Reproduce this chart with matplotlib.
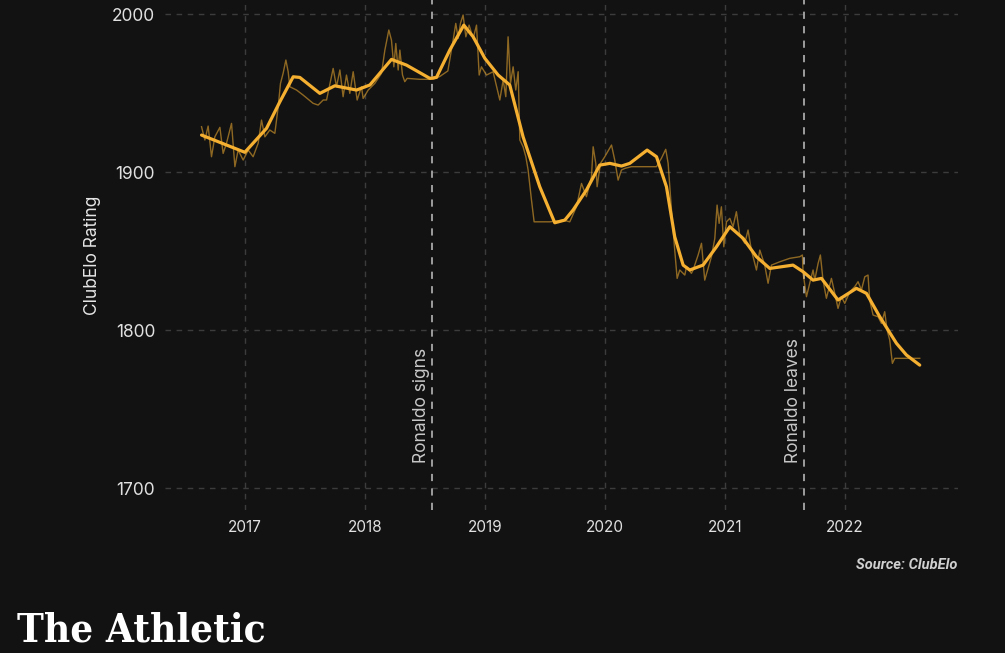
import matplotlib
matplotlib.use("Agg")
import matplotlib.pyplot as plt

# ClubElo rating, raw (per match) - decimal years
raw_year = [2016.639, 2016.667, 2016.694, 2016.722, 2016.750, 2016.792, 2016.819, 2016.847,
            2016.889, 2016.917, 2016.944, 2016.986, 2017.028, 2017.069, 2017.111, 2017.139,
            2017.167, 2017.208, 2017.250, 2017.278, 2017.297, 2017.319, 2017.342, 2017.361,
            2017.375, 2017.431, 2017.486, 2017.569, 2017.611, 2017.653, 2017.681, 2017.736,
            2017.764, 2017.792, 2017.819, 2017.847, 2017.875, 2017.903, 2017.936, 2017.972,
            2017.986, 2018.028, 2018.083, 2018.139, 2018.167, 2018.200, 2018.222, 2018.242,
            2018.258, 2018.278, 2018.292, 2018.314, 2018.333, 2018.353, 2018.458, 2018.569,
            2018.625, 2018.692, 2018.736, 2018.758, 2018.778, 2018.797, 2018.819, 2018.842,
            2018.869, 2018.903, 2018.931, 2018.953, 2018.972, 2019.014, 2019.069, 2019.125,
            2019.153, 2019.175, 2019.194, 2019.214, 2019.236, 2019.258, 2019.278, 2019.292,
            2019.319, 2019.342, 2019.361, 2019.389, 2019.411, 2019.542, 2019.653, 2019.708,
            2019.764, 2019.806, 2019.847, 2019.889, 2019.903, 2019.925, 2019.936, 2019.964,
            2020.000, 2020.056, 2020.083, 2020.111, 2020.139, 2020.167, 2020.222, 2020.431,
            2020.472, 2020.508, 2020.528, 2020.556, 2020.583, 2020.603, 2020.625, 2020.667,
            2020.681, 2020.722, 2020.736, 2020.778, 2020.806, 2020.833, 2020.861, 2020.889,
            2020.917, 2020.936, 2020.953, 2020.972, 2020.992, 2021.014, 2021.042, 2021.069,
            2021.097, 2021.125, 2021.167, 2021.194, 2021.222, 2021.264, 2021.292, 2021.333,
            2021.361, 2021.389, 2021.458, 2021.542, 2021.625, 2021.647, 2021.653, 2021.681,
            2021.708, 2021.736, 2021.750, 2021.778, 2021.797, 2021.819, 2021.847, 2021.889,
            2021.917, 2021.944, 2021.972, 2022.000, 2022.042, 2022.083, 2022.111, 2022.139,
            2022.167, 2022.194, 2022.208, 2022.236, 2022.278, 2022.306, 2022.333, 2022.353,
            2022.375, 2022.397, 2022.417, 2022.625]
raw_elo = [1928.7, 1920.3, 1929.1, 1909.7, 1922.3, 1928.3, 1911.8, 1918.2,
           1930.8, 1903.4, 1913.9, 1907.6, 1913.9, 1909.7, 1918.2, 1932.9,
           1922.3, 1926.6, 1924.5, 1941.3, 1956.1, 1962.5, 1970.9, 1963.5,
           1954.0, 1951.9, 1948.7, 1943.5, 1942.4, 1945.6, 1945.6, 1965.6,
           1954.0, 1964.6, 1947.7, 1961.4, 1949.8, 1963.5, 1945.6, 1954.0,
           1946.6, 1951.9, 1956.1, 1962.5, 1977.2, 1989.9, 1983.5, 1966.6,
           1981.4, 1964.6, 1977.2, 1961.4, 1957.2, 1959.3, 1958.7, 1958.7,
           1960.5, 1964.0, 1983.5, 1994.1, 1984.6, 1994.1, 1999.4, 1985.6,
           1993.0, 1984.6, 1993.0, 1961.4, 1966.6, 1961.4, 1963.5, 1945.6,
           1958.2, 1947.7, 1985.6, 1956.1, 1966.6, 1951.9, 1963.5, 1920.3,
           1916.0, 1909.7, 1901.3, 1882.3, 1868.5, 1868.5, 1869.6, 1868.5,
           1878.0, 1892.8, 1884.4, 1897.0, 1916.0, 1905.5, 1890.7, 1905.5,
           1909.7, 1917.1, 1907.6, 1894.9, 1901.3, 1902.3, 1903.4, 1903.4,
           1908.7, 1914.4, 1905.5, 1876.0, 1850.6, 1832.7, 1838.0, 1834.8,
           1840.1, 1835.9, 1838.0, 1847.5, 1854.9, 1831.6, 1839.0, 1846.4,
           1858.0, 1879.1, 1867.5, 1878.0, 1852.7, 1868.5, 1870.7, 1865.4,
           1874.9, 1860.1, 1854.9, 1863.3, 1850.6, 1838.0, 1850.6, 1841.1,
           1829.6, 1841.1, 1843.2, 1845.4, 1846.4, 1847.5, 1835.9, 1821.1,
           1829.6, 1838.0, 1831.6, 1842.2, 1847.5, 1831.6, 1820.1, 1832.7,
           1823.2, 1813.7, 1821.1, 1816.9, 1824.2, 1827.4, 1830.6, 1825.3,
           1833.7, 1834.8, 1819.0, 1809.5, 1808.4, 1804.2, 1811.6, 1800.0,
           1793.7, 1778.9, 1782.1, 1782.1]

# smoothed trend
smooth_year = [2016.639, 2017.000, 2017.181, 2017.292, 2017.403, 2017.458, 2017.625, 2017.750,
               2017.931, 2018.042, 2018.222, 2018.347, 2018.542, 2018.597, 2018.708, 2018.825,
               2018.903, 2019.000, 2019.111, 2019.208, 2019.319, 2019.458, 2019.583, 2019.667,
               2019.736, 2019.847, 2019.958, 2020.042, 2020.139, 2020.208, 2020.353, 2020.431,
               2020.514, 2020.583, 2020.653, 2020.708, 2020.819, 2020.931, 2021.042, 2021.153,
               2021.264, 2021.375, 2021.569, 2021.653, 2021.736, 2021.806, 2021.944, 2022.097,
               2022.181, 2022.292, 2022.431, 2022.514, 2022.625]
smooth_elo = [1923.4, 1912.5, 1927.7, 1944.5, 1960.3, 1959.9, 1949.8, 1954.6,
              1951.9, 1955.1, 1971.3, 1967.7, 1959.3, 1959.9, 1977.2, 1993.0,
              1985.6, 1972.0, 1961.4, 1955.1, 1922.3, 1890.7, 1867.9, 1869.6,
              1876.0, 1888.6, 1904.4, 1905.5, 1903.8, 1905.5, 1913.9, 1909.7,
              1890.7, 1859.0, 1841.1, 1838.0, 1841.1, 1852.7, 1865.4, 1858.0,
              1846.4, 1839.0, 1841.1, 1836.9, 1831.6, 1832.7, 1819.0, 1826.4,
              1823.2, 1808.4, 1791.6, 1784.2, 1777.8]

events = [2018.56, 2021.66]
event_labels = ["Ronaldo signs", "Ronaldo leaves"]
years = [2017, 2018, 2019, 2020, 2021, 2022]
yticks = [1700, 1800, 1900, 2000]

bg = "#121212"
gold = "#F5B031"

fig = plt.figure(figsize=(10.05, 6.53), dpi=100, facecolor=bg)
ax = fig.add_axes([0.164, 0.219, 0.789, 0.781])
ax.set_facecolor(bg)

ax.plot(raw_year, raw_elo, color=gold, lw=1.0, alpha=0.55, zorder=3)
ax.plot(smooth_year, smooth_elo, color=gold, lw=2.3, zorder=4,
        solid_joinstyle="round", solid_capstyle="round")

for x, lab in zip(events, event_labels):
    ax.axvline(x, color="#a8a8a8", lw=1.3, ls=(0, (4, 4)), zorder=2)
    ax.annotate(lab, xy=(x, 1716), xytext=(-1.5, 0), textcoords="offset points",
                rotation=90, ha="right", va="bottom", color="#c8c8c8",
                fontsize=12.5, family="Inter")

ax.set_xlim(2016.333, 2022.942)
ax.set_ylim(1686.1, 2008.9)
ax.set_xticks(years)
ax.set_xticklabels([str(y) for y in years])
ax.set_yticks(yticks)
ax.grid(True, color="#3c3c3c", lw=1.0, ls=(0, (4, 4)), zorder=1)
for s in ax.spines.values():
    s.set_visible(False)
ax.tick_params(length=0, colors="#e0e0e0", pad=7)
ax.tick_params(axis="x", labelsize=11)
ax.tick_params(axis="y", labelsize=12.5)
for t in ax.get_xticklabels() + ax.get_yticklabels():
    t.set_family("Inter")
ax.set_ylabel("ClubElo Rating", color="#e6e6e6", fontsize=12.5, family="Inter", labelpad=8)

fig.text(0.953, 0.135, "Source: ClubElo", ha="right", va="center", color="#d0d0d0",
         fontsize=10.5, style="italic", fontweight="semibold", family="Roboto")
fig.text(0.017, 0.018, "The Athletic", ha="left", va="baseline", color="white",
         fontsize=29, fontweight="bold", fontstretch="condensed", family="DejaVu Serif")

fig.savefig("out.png", dpi=100, facecolor=bg)
